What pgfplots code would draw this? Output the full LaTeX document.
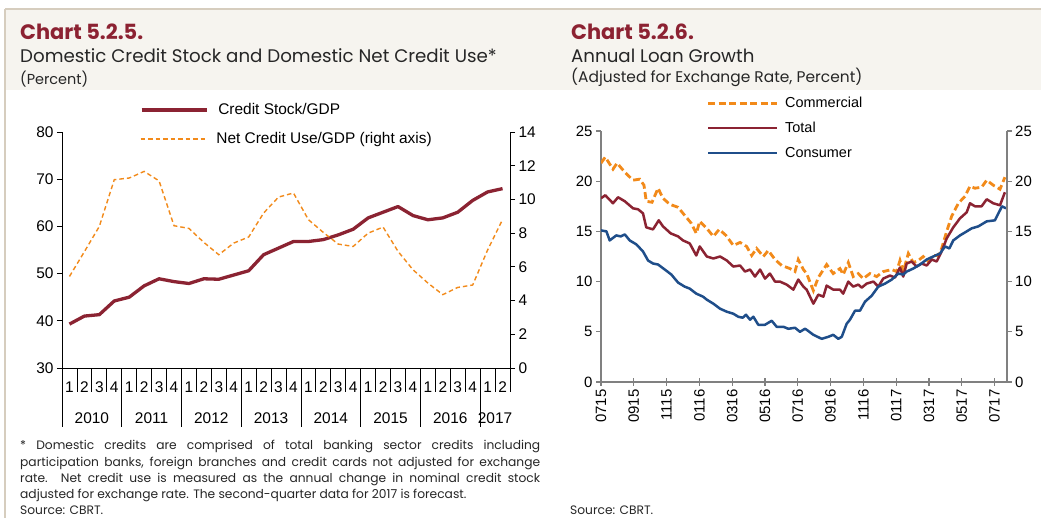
\documentclass[border=0pt]{standalone}
\usepackage{fontspec}
\usepackage{pgfplots}
\usepackage{pgfplotstable}
\pgfplotsset{compat=1.18}
\setmainfont{Liberation Sans}
\newfontfamily\gothic{Poppins}
\definecolor{cbred}{HTML}{8B2332}
\definecolor{cborange}{HTML}{F28A1A}
\definecolor{cbblue}{HTML}{1F4E8A}
\definecolor{band}{HTML}{F6F4EF}
\definecolor{rulec}{HTML}{D6CDBE}
\definecolor{titlered}{HTML}{8C2232}
\definecolor{txt}{HTML}{262626}
\definecolor{axgray}{HTML}{808080}

\pgfplotstableread{
x y
0.5 39.3
1.5 41.0
2.5 41.3
3.5 44.2
4.5 45.0
5.5 47.4
6.5 48.9
7.5 48.3
8.5 47.9
9.5 48.9
10.5 48.8
11.5 49.7
12.5 50.6
13.5 54.0
14.5 55.4
15.5 56.8
16.5 56.8
17.5 57.2
18.5 58.2
19.5 59.4
20.5 61.8
21.5 63.0
22.5 64.2
23.5 62.3
24.5 61.4
25.5 61.8
26.5 63.0
27.5 65.5
28.5 67.3
29.5 68.0
}\tabCS

\pgfplotstableread{
x y
0.5 5.43
1.5 6.9
2.5 8.4
3.5 11.17
4.5 11.27
5.5 11.66
6.5 11.1
7.5 8.44
8.5 8.28
9.5 7.45
10.5 6.72
11.5 7.41
12.5 7.77
13.5 9.19
14.5 10.14
15.5 10.38
16.5 8.8
17.5 8.04
18.5 7.35
19.5 7.21
20.5 8.0
21.5 8.36
22.5 6.92
23.5 5.83
24.5 5.04
25.5 4.35
26.5 4.78
27.5 4.92
28.5 7.0
29.5 8.8
}\tabNCU

\pgfplotstableread{
x y
0 21.8
0.26 22.4
0.73 21.2
0.98 21.8
1.45 20.9
1.95 20.1
2.36 20.2
2.62 19.6
2.76 18.0
3.11 17.9
3.48 19.3
3.78 18.3
4.19 17.7
4.70 17.4
5.10 16.6
5.51 15.8
5.81 14.8
6.02 16.0
6.45 15.3
6.85 14.5
7.21 15.2
7.62 14.6
8.07 13.6
8.48 13.9
8.88 13.5
9.19 12.6
9.49 13.3
9.90 12.5
10.20 13.1
10.61 12.2
11.02 11.6
11.52 11.3
11.83 11.0
12.03 12.2
12.34 11.2
12.54 10.8
12.95 9.1
13.25 10.4
13.76 11.7
14.16 10.8
14.57 11.3
14.77 10.7
15.08 11.9
15.38 10.5
15.69 10.8
15.99 10.3
16.40 10.8
16.81 10.5
17.21 11.0
17.73 11.2
18.03 11.0
18.23 12.1
18.43 11.0
18.74 12.8
19.04 11.9
19.35 12.1
19.65 12.5
19.96 12.0
20.26 12.6
20.57 12.6
20.77 13.3
21.08 15.0
21.38 16.5
21.79 17.8
22.20 18.5
22.50 19.5
22.80 19.3
23.21 19.4
23.52 20.1
23.92 19.6
24.33 19.2
24.63 20.4
}\tabCom

\pgfplotstableread{
x y
0 18.3
0.26 18.6
0.73 17.8
1.04 18.4
1.45 18.0
1.95 17.3
2.26 17.2
2.56 16.8
2.76 15.4
3.17 15.2
3.52 16.1
3.78 15.5
4.25 14.8
4.70 14.5
5.00 14.1
5.41 13.8
5.81 12.6
6.02 13.5
6.45 12.5
6.85 12.3
7.26 12.5
7.67 12.1
8.07 11.5
8.48 11.6
8.78 11.0
9.09 11.2
9.39 10.5
9.70 11.2
10.00 10.3
10.30 10.8
10.61 10.0
10.91 10.0
11.32 9.7
11.73 9.2
12.03 10.2
12.34 9.5
12.54 9.2
12.95 7.8
13.25 8.7
13.56 8.5
13.76 9.6
14.16 9.2
14.57 9.2
14.77 8.8
15.08 10.0
15.38 9.5
15.69 9.7
15.90 9.4
16.20 9.8
16.61 10.0
16.91 9.5
17.21 10.3
17.62 10.6
17.93 10.4
18.23 11.4
18.43 10.5
18.64 11.8
18.94 12.0
19.25 11.5
19.56 11.8
19.86 11.6
20.17 12.2
20.47 12.0
20.77 13.0
21.08 14.3
21.48 15.4
21.89 16.3
22.30 16.9
22.50 17.8
22.80 17.5
23.21 17.5
23.52 18.2
23.92 17.8
24.33 17.6
24.63 18.9
}\tabTot

\pgfplotstableread{
x y
0 15.1
0.33 15.0
0.53 14.1
0.93 14.6
1.20 14.5
1.45 14.7
1.75 14.1
2.16 13.7
2.56 13.0
2.87 12.1
3.17 11.8
3.48 11.7
3.89 11.2
4.29 10.7
4.70 9.9
5.10 9.5
5.41 9.3
5.81 8.8
6.22 8.5
6.45 8.2
6.85 7.8
7.26 7.3
7.67 7.0
8.07 6.8
8.37 6.5
8.64 6.4
8.84 6.7
9.09 6.2
9.29 6.5
9.59 5.7
10.00 5.7
10.41 6.1
10.71 5.5
11.12 5.5
11.42 5.3
11.83 5.4
12.13 5.0
12.44 5.3
12.54 5.2
12.95 4.7
13.46 4.3
13.86 4.5
14.16 4.7
14.47 4.3
14.68 4.5
14.98 5.8
15.18 6.2
15.49 7.1
15.79 7.1
16.10 8.0
16.51 8.6
16.91 9.5
17.32 9.8
17.73 10.2
18.13 10.8
18.43 10.7
18.64 11.0
19.04 11.3
19.45 11.7
19.86 12.2
20.26 12.5
20.67 12.8
20.98 13.5
21.24 13.3
21.48 14.1
21.89 14.6
22.30 15.0
22.60 15.3
23.01 15.5
23.52 16.0
24.02 16.1
24.45 17.5
24.70 17.3
}\tabCon

\begin{document}
\begin{tikzpicture}[x=1bp,y=1bp]
\useasboundingbox (0,0) rectangle (1041,518);
\fill[white] (0,0) rectangle (1041,518);
\fill[band] (5,428) rectangle (1041,508);
\draw[rulec, line width=1.2bp] (5,509) -- (1041,509);
\draw[rulec, line width=1.2bp] (5,509) -- (5,0);

% titles
\node[anchor=base west, inner sep=0, text=titlered, font=\gothic\bfseries\fontsize{21}{25}\selectfont] at (20,478) {Chart 5.2.5.};
\node[anchor=base west, inner sep=0, text=txt, font=\gothic\fontsize{18.3}{22}\selectfont] at (20,455) {Domestic Credit Stock and Domestic Net Credit Use*};
\node[anchor=base west, inner sep=0, text=txt, font=\gothic\fontsize{14.5}{18}\selectfont] at (20,433) {(Percent)};
\node[anchor=base west, inner sep=0, text=titlered, font=\gothic\bfseries\fontsize{21}{25}\selectfont] at (571,478) {Chart 5.2.6.};
\node[anchor=base west, inner sep=0, text=txt, font=\gothic\fontsize{18.3}{22}\selectfont] at (571,455) {Annual Loan Growth};
\node[anchor=base west, inner sep=0, text=txt, font=\gothic\fontsize{15.5}{18}\selectfont] at (571,435) {(Adjusted for Exchange Rate, Percent)};

% footnotes
\node[anchor=base west, inner sep=0, text=txt, font=\gothic\fontsize{12.3}{16.2}\selectfont] at (20,68) {\parbox[t]{520bp}{\baselineskip=16.2bp * Domestic credits are comprised of total banking sector credits including\linebreak participation banks, foreign branches and credit cards not adjusted for exchange\linebreak rate. Net credit use is measured as the annual change in nominal credit stock\linebreak adjusted for exchange rate. The second-quarter data for 2017 is forecast.\\ Source: CBRT.}};
\node[anchor=base west, inner sep=0, text=txt, font=\gothic\fontsize{12.3}{16.2}\selectfont] at (570,3.2) {Source: CBRT.};

% ---------- left chart ----------
\begin{axis}[
  at={(62bp,150bp)}, anchor=south west, scale only axis,
  width=448bp, height=236bp,
  xmin=0, xmax=30, ymin=30, ymax=80,
  axis x line=bottom, axis y line=left,
  axis line style={-, black, line width=0.8bp},
  tick style={black, line width=0.8bp},
  tick align=outside,
  major tick length=24bp,
  xtick={0,1,...,30},
  xticklabels={1,2,3,4,1,2,3,4,1,2,3,4,1,2,3,4,1,2,3,4,1,2,3,4,1,2,3,4,1,2,{}},
  xticklabel style={anchor=center, xshift=7.47bp, yshift=5bp},
  ytick=\empty,
  extra y ticks={30,40,50,60,70,80},
  extra y tick style={major tick length=5bp},
  extra x ticks={0,4,8,12,16,20,24,28},
  extra x tick labels={,,,,,,,},
  extra x tick style={major tick length=59bp},
  tick label style={font=\fontsize{15.5}{18}\selectfont, text=black},
  /pgf/number format/assume math mode=true,
  clip=false,
  legend style={at={(0.1741,1.0932)}, anchor=west, draw=none, fill=none,
    inner sep=0pt, outer sep=0pt, font=\fontsize{15.5}{18}\selectfont,
    nodes={inner sep=0pt},
    /tikz/every odd column/.append style={column sep=10bp}},
  legend image code/.code={\draw[#1] (0bp,0bp) -- (65bp,0bp);},
  legend cell align=left,
]
\addplot[cbred, line width=3.3bp, line join=round] table {\tabCS};
\addlegendentry{Credit Stock/GDP}
\node[font=\fontsize{15.5}{18}\selectfont, yshift=-50bp] at (axis cs:2,30) {2010};
\node[font=\fontsize{15.5}{18}\selectfont, yshift=-50bp] at (axis cs:6,30) {2011};
\node[font=\fontsize{15.5}{18}\selectfont, yshift=-50bp] at (axis cs:10,30) {2012};
\node[font=\fontsize{15.5}{18}\selectfont, yshift=-50bp] at (axis cs:14,30) {2013};
\node[font=\fontsize{15.5}{18}\selectfont, yshift=-50bp] at (axis cs:18,30) {2014};
\node[font=\fontsize{15.5}{18}\selectfont, yshift=-50bp] at (axis cs:22,30) {2015};
\node[font=\fontsize{15.5}{18}\selectfont, yshift=-50bp] at (axis cs:26,30) {2016};
\node[font=\fontsize{15.5}{18}\selectfont, yshift=-50bp] at (axis cs:29,30) {2017};
\end{axis}

\begin{axis}[
  at={(62bp,150bp)}, anchor=south west, scale only axis,
  width=448bp, height=236bp,
  xmin=0, xmax=30, ymin=0, ymax=14,
  axis x line=none, axis y line=right,
  axis line style={-, black, line width=0.8bp},
  tick style={black, line width=0.8bp},
  tick align=outside, major tick length=5bp,
  ytick={0,2,...,14},
  tick label style={font=\fontsize{15.5}{18}\selectfont, text=black},
  /pgf/number format/assume math mode=true,
  legend style={at={(0.1741,0.9703)}, anchor=west, draw=none, fill=none,
    inner sep=0pt, outer sep=0pt, font=\fontsize{15.5}{18}\selectfont,
    nodes={inner sep=0pt},
    /tikz/every odd column/.append style={column sep=10bp}},
  legend image code/.code={\draw[#1] (0bp,0bp) -- (65bp,0bp);},
  legend cell align=left,
]
\addplot[cborange, line width=1.4bp, dash pattern=on 4.5bp off 3bp] table {\tabNCU};
\addlegendentry{Net Credit Use/GDP (right axis)}
\end{axis}

% ---------- right chart ----------
\begin{axis}[
  at={(601bp,136bp)}, anchor=south west, scale only axis,
  width=405.7bp, height=251bp,
  xmin=0, xmax=24.74, ymin=0, ymax=25,
  axis x line=bottom, axis y line=left,
  axis line style={-, axgray, line width=1.6bp},
  tick style={axgray, line width=1.2bp},
  tick align=center, major tick length=8bp,
  xtick={0,2,...,24},
  xticklabels={0715,0915,1115,0116,0316,0516,0716,0916,1116,0117,0317,0517,0717},
  xticklabel style={rotate=90, anchor=east},
  ytick=\empty,
  extra y ticks={0,5,10,15,20,25},
  extra y tick style={major tick length=5bp, tick align=outside},
  tick label style={font=\fontsize{15}{18}\selectfont, text=black},
  /pgf/number format/assume math mode=true,
  legend style={at={(0.2605,1.012)}, anchor=west, draw=none, fill=none,
    inner sep=0pt, outer sep=0pt, font=\fontsize{14.5}{17}\selectfont,
    nodes={inner sep=0pt}, row sep=13bp,
    /tikz/every odd column/.append style={column sep=6.7bp}},
  legend image code/.code={\draw[#1] (0bp,0bp) -- (69bp,0bp);},
  legend cell align=left,
]
\addplot[cborange, line width=2.8bp, dash pattern=on 7bp off 3.5bp] table {\tabCom};
\addlegendentry{Commercial}
\addplot[cbred, line width=2.5bp, line join=round] table {\tabTot};
\addlegendentry{Total}
\addplot[cbblue, line width=2.5bp, line join=round] table {\tabCon};
\addlegendentry{Consumer}
\end{axis}

\begin{axis}[
  at={(601bp,136bp)}, anchor=south west, scale only axis,
  width=405.7bp, height=251bp,
  xmin=0, xmax=24.74, ymin=0, ymax=25,
  axis x line=none, axis y line=right,
  axis line style={-, axgray, line width=1.6bp},
  tick style={axgray, line width=1.2bp},
  tick align=outside, major tick length=5bp,
  ytick={0,5,...,25},
  tick label style={font=\fontsize{15}{18}\selectfont, text=black},
  /pgf/number format/assume math mode=true,
]
\end{axis}
\end{tikzpicture}
\end{document}
